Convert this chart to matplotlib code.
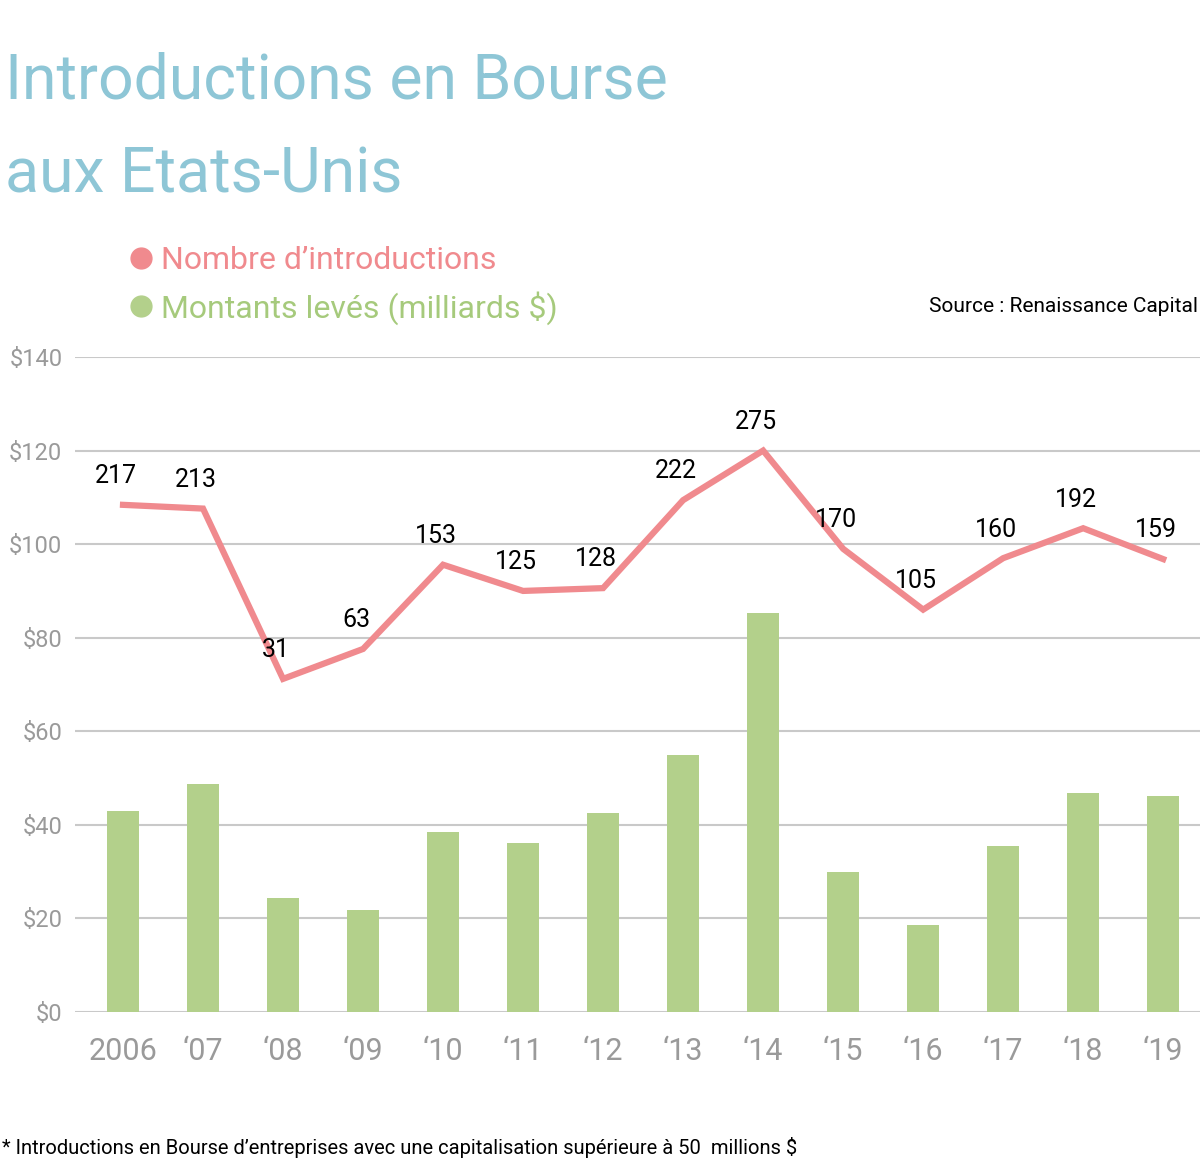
import matplotlib.pyplot as plt
from matplotlib.lines import Line2D

# data
years = ['2006', '‘07', '‘08', '‘09', '‘10', '‘11', '‘12', '‘13', '‘14', '‘15', '‘16', '‘17', '‘18', '‘19']
montants = [43.0, 48.7, 24.4, 21.8, 38.5, 36.1, 42.5, 54.9, 85.3, 29.9, 18.6, 35.5, 46.8, 46.2]
nombre = [217, 213, 31, 63, 153, 125, 128, 222, 275, 170, 105, 160, 192, 159]
yticks = [0, 20, 40, 60, 80, 100, 120, 140]

# no condensed face installed, Roboto is the narrowest one we have
plt.rcParams['font.family'] = ['Roboto', 'DejaVu Sans']

col_bar = '#b3d08b'
col_line = '#f08a8e'
col_title = '#8ec6d6'
col_grid = '#c9c9c9'
col_tick = '#9a9a9a'

fig = plt.figure(figsize=(12, 11.67), dpi=100)
ax = fig.add_axes([0.0625, 0.1328, 0.9375, 0.5613])
x = list(range(len(years)))

ax.bar(x, montants, width=0.4, color=col_bar, zorder=2)
ax.set_ylim(0, 140)
ax.set_xlim(-0.6, 13.46)
ax.set_yticks(yticks)
ax.set_yticklabels(['\\$%d' % v for v in yticks], color=col_tick, fontsize=17)
ax.set_xticks(x)
ax.set_xticklabels(years, color=col_tick, fontsize=22)
ax.tick_params(length=0, axis='y', pad=9)
ax.tick_params(length=0, axis='x', pad=18)
ax.yaxis.grid(True, color=col_grid, linewidth=1.5, zorder=0)
ax.set_axisbelow(True)
for s in ax.spines.values():
    s.set_visible(False)

# count line on its own scale: $0 -> -325, $140 -> 375
ax2 = ax.twinx()
ax2.set_ylim(-325, 375)
ax2.plot(x, nombre, color=col_line, linewidth=4.5, solid_joinstyle='miter', zorder=3)
ax2.set_yticks([])
for s in ax2.spines.values():
    s.set_visible(False)
for i, n in enumerate(nombre):
    ax2.annotate(str(n), (i, n), xytext=(-5, 12), textcoords='offset points',
                 ha='center', va='bottom', fontsize=18, color='black')

fig.text(0.004, 0.916, 'Introductions en Bourse', color=col_title,
         fontsize=45, va='baseline', ha='left')
fig.text(0.004, 0.835, 'aux Etats-Unis', color=col_title,
         fontsize=45, va='baseline', ha='left')

handles = [Line2D([], [], marker='o', linestyle='none', markersize=15, color=col_line),
           Line2D([], [], marker='o', linestyle='none', markersize=15, color=col_bar)]
fig.legend(handles, ['Nombre d’introductions', 'Montants levés (milliards \\$)'],
           loc='upper left', bbox_to_anchor=(0.08, 0.814), frameon=False,
           fontsize=23, labelcolor=[col_line, '#a6ca7c'], handletextpad=0.15,
           labelspacing=0.5, handlelength=1.0)

fig.text(0.998, 0.737, 'Source : Renaissance Capital', ha='right', va='center',
         fontsize=15, color='black')
fig.text(0.002, 0.017, '* Introductions en Bourse d’entreprises avec une capitalisation supérieure à 50  millions \\$',
         ha='left', va='center', fontsize=14.5, color='black')

fig.savefig('out.png', dpi=100)
